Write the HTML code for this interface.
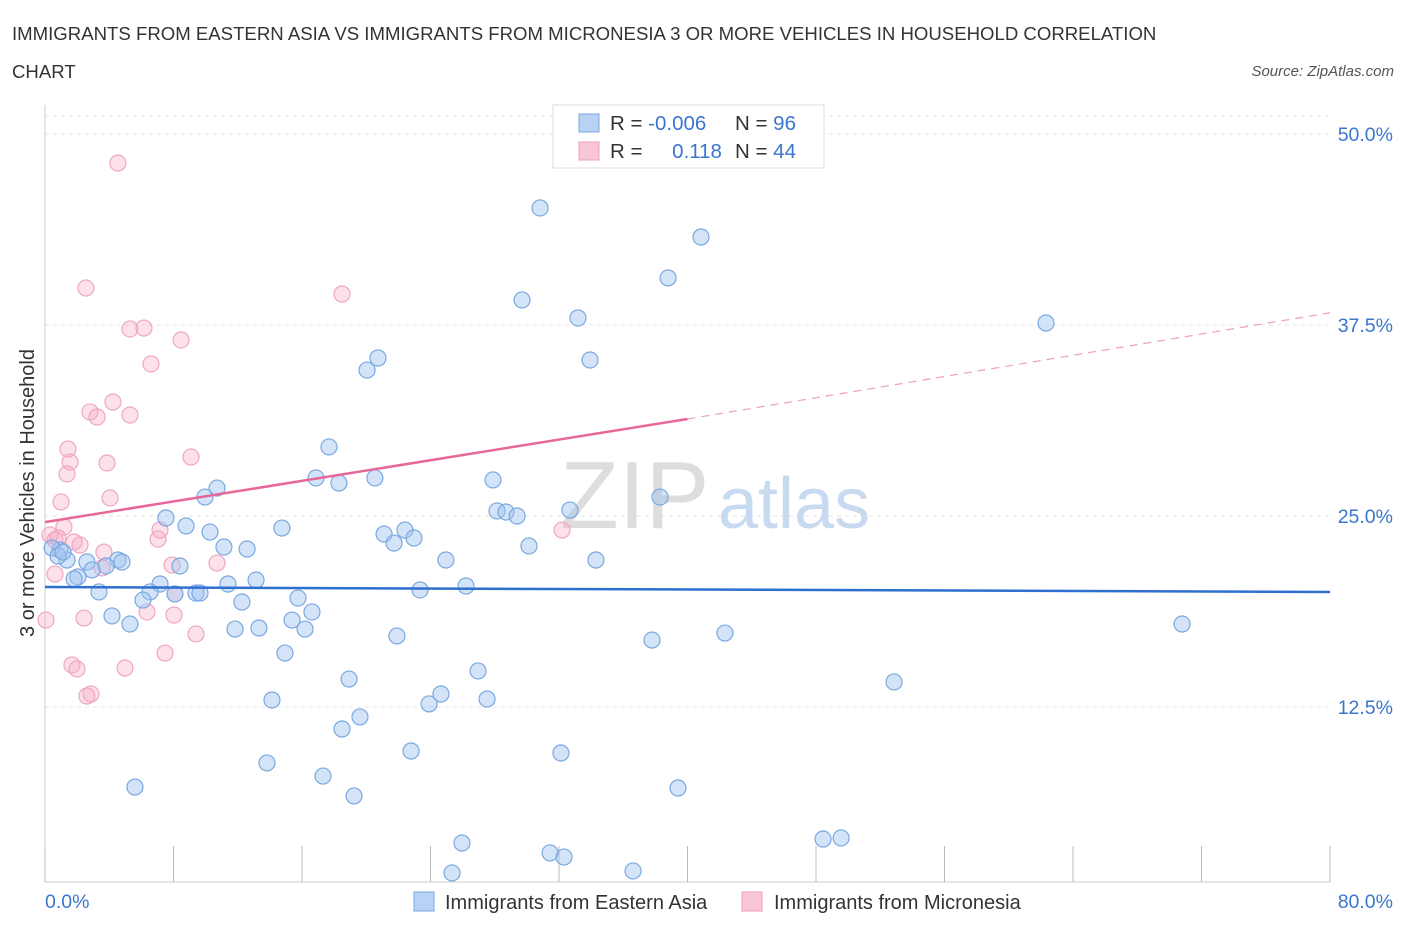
<!DOCTYPE html>
<html><head><meta charset="utf-8"><style>
body{margin:0;background:#fff;}
svg text{font-family:"Liberation Sans",sans-serif;}
</style></head><body>
<svg width="1406" height="930" xmlns="http://www.w3.org/2000/svg">
<text x="12" y="40" font-size="18.6" fill="#333">IMMIGRANTS FROM EASTERN ASIA VS IMMIGRANTS FROM MICRONESIA 3 OR MORE VEHICLES IN HOUSEHOLD CORRELATION</text>
<text x="12" y="78" font-size="18.6" fill="#333">CHART</text>
<text x="1394" y="76" font-size="15" fill="#555" font-style="italic" text-anchor="end">Source: ZipAtlas.com</text>
<g id="grid"></g>
<g id="axes"></g>
<text x="560" y="528" font-size="96" fill="#ddd" font-family="Liberation Serif">ZIP</text>
<text x="718" y="528" font-size="72" fill="#c8daf0">atlas</text>
<g id="pts"></g>
<g id="trend"></g>
<text transform="translate(34,493) rotate(-90)" font-size="20" fill="#333" text-anchor="middle">3 or more Vehicles in Household</text>
<g>
<rect x="553" y="105" width="271" height="63" fill="#fff" stroke="#ddd"/>
<rect x="579" y="114" width="20" height="18" fill="#b8d2f5" stroke="#7aa8e0"/>
<rect x="579" y="142" width="20" height="18" fill="#f8c6d6" stroke="#f0a0bb"/>
<text x="610" y="130" font-size="20.5" fill="#333">R = <tspan fill="#3a75d0">-0.006</tspan></text>
<text x="735" y="130" font-size="20.5" fill="#333">N = <tspan fill="#3a75d0">96</tspan></text>
<text x="610" y="158" font-size="20.5" fill="#333">R = <tspan fill="#3a75d0" dx="24">0.118</tspan></text>
<text x="735" y="158" font-size="20.5" fill="#333">N = <tspan fill="#3a75d0">44</tspan></text>
</g>
<g>
<rect x="414" y="892" width="20" height="19" fill="#b8d2f5" stroke="#7aa8e0"/>
<text x="445" y="909" font-size="20" fill="#333">Immigrants from Eastern Asia</text>
<rect x="742" y="892" width="20" height="19" fill="#f8c6d6" stroke="#f0a0bb"/>
<text x="774" y="909" font-size="20" fill="#333">Immigrants from Micronesia</text>
</g>
</svg>
<script>
const yTicks=[12.5,25,37.5,50];
const yTickLabels=["12.5%","25.0%","37.5%","50.0%"];
const xTicks=[0,8,16,24,32,40,48,56,64,72,80];
const blueX=[];const blueY=[];
const pinkX=[];const pinkY=[];
const bluePx=[[540,208],[701,237],[668,278],[522,300],[578,318],[1046,323],[378,358],[590,360],[367,370],[329,447],[316,478],[339,483],[375,478],[493,480],[217,488],[205,497],[660,497],[570,510],[497,511],[506,512],[517,516],[166,518],[186,526],[282,528],[210,532],[405,530],[384,534],[414,538],[394,543],[529,546],[224,547],[247,549],[446,560],[596,560],[118,560],[122,562],[87,562],[67,560],[60,550],[52,548],[58,556],[63,552],[180,566],[106,566],[92,570],[78,577],[74,579],[160,584],[228,584],[256,580],[466,586],[420,590],[99,592],[150,592],[175,594],[196,593],[200,593],[143,600],[242,602],[298,598],[312,612],[112,616],[292,620],[130,624],[235,629],[259,628],[305,629],[1182,624],[397,636],[725,633],[652,640],[285,653],[478,671],[349,679],[894,682],[441,694],[487,699],[272,700],[429,704],[360,717],[342,729],[411,751],[561,753],[267,763],[323,776],[135,787],[678,788],[354,796],[462,843],[823,839],[841,838],[550,853],[564,857],[633,871],[452,873]];
const pinkPx=[[118,163],[86,288],[342,294],[130,329],[144,328],[181,340],[151,364],[113,402],[90,412],[97,417],[130,415],[68,449],[70,462],[107,463],[67,474],[191,457],[110,498],[61,502],[64,527],[160,530],[562,530],[158,539],[50,535],[55,540],[58,538],[74,542],[80,545],[104,552],[102,568],[217,563],[172,565],[55,574],[175,594],[147,612],[174,615],[84,618],[46,620],[196,634],[165,653],[72,665],[77,669],[125,668],[91,694],[87,696]];
bluePx.forEach(p=>{blueX.push(+((p[0]-45)/1285*80).toFixed(2));blueY.push(+((898-p[1])/191*12.5).toFixed(2));});
pinkPx.forEach(p=>{pinkX.push(+((p[0]-45)/1285*80).toFixed(2));pinkY.push(+((898-p[1])/191*12.5).toFixed(2));});
const blueTrendX=[0,80];const blueTrendY=[20.35,20.03];
const pinkTrendX=[0,40,80];const pinkTrendY=[24.6,31.35,38.3];
const NS="http://www.w3.org/2000/svg";
const X=v=>45+v/80*1285;
const Y=v=>898-v/12.5*191;
function mk(tag,attrs,parent){const e=document.createElementNS(NS,tag);for(const k in attrs)e.setAttribute(k,attrs[k]);parent.appendChild(e);return e;}
const grid=document.getElementById('grid'),axes=document.getElementById('axes'),pts=document.getElementById('pts'),trend=document.getElementById('trend');
let g0=mk('line',{x1:45,x2:1330,y1:116,y2:116,stroke:'#e3e3e3','stroke-dasharray':'4,4'},grid);


yTicks.forEach((t,i)=>{
 const l=mk('line',{x1:45,x2:1330,y1:Y(t),y2:Y(t),stroke:'#e3e3e3','stroke-dasharray':'4,4'},grid);
 
 
 const tx=mk('text',{x:1393,y:Y(t)+7,'font-size':19.5,fill:'#3a75d0','text-anchor':'end'},axes);
 tx.textContent=yTickLabels[i];
 
 
});
let ax=mk('line',{x1:45,x2:45,y1:105,y2:882,stroke:'#ccc'},axes);


let bx=mk('line',{x1:45,x2:1330,y1:882,y2:882,stroke:'#ccc'},axes);


xTicks.forEach(t=>{
 const l=mk('line',{x1:X(t),x2:X(t),y1:846,y2:882,stroke:'#bbb'},axes);
 
 
});
let xl=mk('text',{x:45,y:908,'font-size':19.5,fill:'#3a75d0'},axes);xl.textContent='0.0%';


let xr=mk('text',{x:1393,y:908,'font-size':19.5,fill:'#3a75d0','text-anchor':'end'},axes);xr.textContent='80.0%';


pinkX.forEach((x,i)=>{
 const c=mk('circle',{cx:X(x),cy:Y(pinkY[i]),r:8,fill:'rgba(245,170,195,0.35)',stroke:'#f0a6c0','stroke-width':1.2},pts);
 
 
});
blueX.forEach((x,i)=>{
 const c=mk('circle',{cx:X(x),cy:Y(blueY[i]),r:8,fill:'rgba(160,195,240,0.45)',stroke:'#7aa8e0','stroke-width':1.2},pts);
 
 
});
let bl=mk('line',{x1:X(blueTrendX[0]),y1:Y(blueTrendY[0]),x2:X(blueTrendX[1]),y2:Y(blueTrendY[1]),stroke:'#2f6fd0','stroke-width':2.5},trend);


let pl=mk('line',{x1:X(pinkTrendX[0]),y1:Y(pinkTrendY[0]),x2:X(pinkTrendX[1]),y2:Y(pinkTrendY[1]),stroke:'#e8679a','stroke-width':2.5},trend);


let pd=mk('line',{x1:X(pinkTrendX[1]),y1:Y(pinkTrendY[1]),x2:X(pinkTrendX[2]),y2:Y(pinkTrendY[2]),stroke:'#eda0bb','stroke-width':1.2,'stroke-dasharray':'8,6'},trend);


</script>
</body></html>
